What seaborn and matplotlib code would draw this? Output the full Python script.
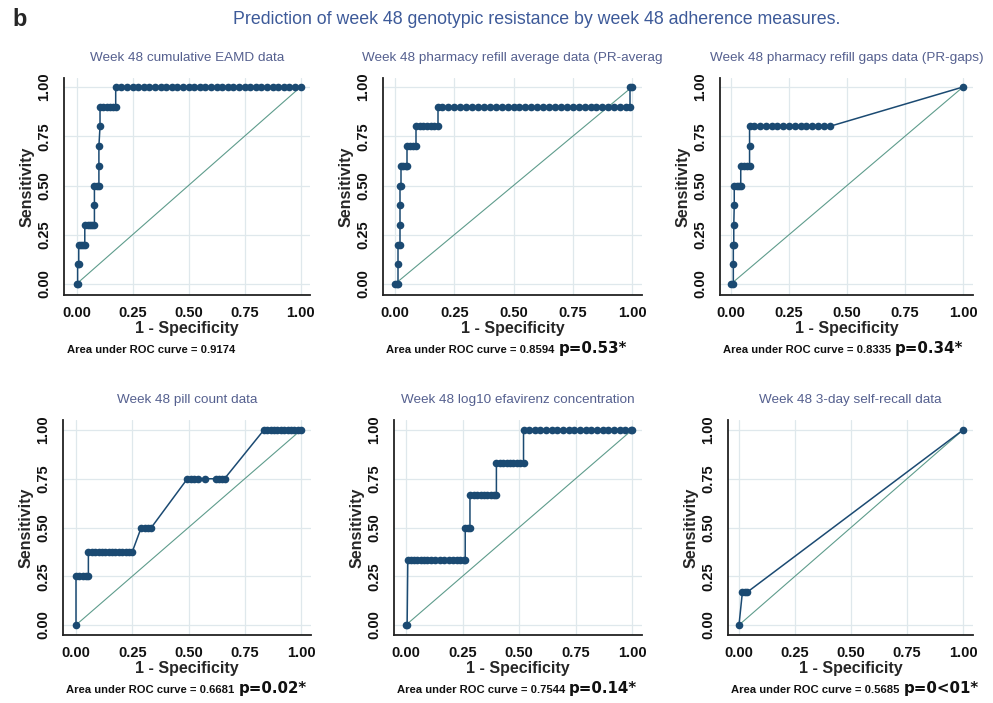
import matplotlib
matplotlib.use('Agg')
import matplotlib.pyplot as plt
import seaborn as sns
import pandas as pd

# ROC points (1 - specificity, sensitivity)
eamd_fpr = [0, 0.005, 0.005, 0.01, 0.01, 0.02, 0.03, 0.037,
            0.037, 0.05, 0.06, 0.07, 0.08, 0.08, 0.08, 0.09, 0.1,
            0.1, 0.1, 0.105, 0.105, 0.12, 0.135, 0.15, 0.165, 0.175,
            0.175, 0.2, 0.225, 0.25, 0.275, 0.3, 0.325, 0.35, 0.375, 0.4,
            0.425, 0.45, 0.475, 0.5, 0.525, 0.55, 0.575, 0.6, 0.625, 0.65,
            0.675, 0.7, 0.725, 0.75, 0.775, 0.8, 0.825, 0.85, 0.875, 0.9,
            0.925, 0.95, 0.975, 1.0]
eamd_tpr = [0, 0, 0.1, 0.1, 0.2, 0.2, 0.2, 0.2,
            0.3, 0.3, 0.3, 0.3, 0.3, 0.4, 0.5, 0.5, 0.5,
            0.6, 0.7, 0.8, 0.9, 0.9, 0.9, 0.9, 0.9, 0.9,
            1, 1, 1, 1, 1, 1, 1, 1, 1, 1,
            1, 1, 1, 1, 1, 1, 1, 1, 1, 1,
            1, 1, 1, 1, 1, 1, 1, 1, 1, 1,
            1, 1, 1, 1]

pravg_fpr = [0, 0.01, 0.014, 0.014, 0.014, 0.02, 0.02, 0.02, 0.02, 0.025,
             0.025, 0.035, 0.045, 0.052, 0.052, 0.065, 0.075, 0.09,
             0.09, 0.105, 0.12, 0.135, 0.15, 0.165, 0.18,
             0.18, 0.2, 0.225, 0.25, 0.275, 0.3, 0.325, 0.35, 0.375, 0.4,
             0.425, 0.45, 0.475, 0.5, 0.525, 0.55, 0.575, 0.6, 0.625, 0.65,
             0.675, 0.7, 0.725, 0.75, 0.775, 0.8, 0.825, 0.85, 0.875, 0.9,
             0.925, 0.95, 0.975, 0.99, 0.99, 1.0]
pravg_tpr = [0, 0, 0, 0.1, 0.2, 0.2, 0.3, 0.4, 0.5, 0.5,
             0.6, 0.6, 0.6, 0.6, 0.7, 0.7, 0.7, 0.7,
             0.8, 0.8, 0.8, 0.8, 0.8, 0.8, 0.8,
             0.9, 0.9, 0.9, 0.9, 0.9, 0.9, 0.9, 0.9, 0.9, 0.9,
             0.9, 0.9, 0.9, 0.9, 0.9, 0.9, 0.9, 0.9, 0.9, 0.9,
             0.9, 0.9, 0.9, 0.9, 0.9, 0.9, 0.9, 0.9, 0.9, 0.9,
             0.9, 0.9, 0.9, 0.9, 1, 1]

prgap_fpr = [0, 0.01, 0.01, 0.01, 0.012, 0.012, 0.014,
             0.014, 0.025, 0.035, 0.042, 0.042, 0.055, 0.068, 0.08, 0.08,
             0.08, 0.1, 0.125, 0.15, 0.175, 0.2, 0.225, 0.25, 0.275, 0.3,
             0.325, 0.35, 0.375, 0.4, 0.425, 1.0]
prgap_tpr = [0, 0, 0.1, 0.2, 0.2, 0.3, 0.4,
             0.5, 0.5, 0.5, 0.5, 0.6, 0.6, 0.6, 0.6, 0.7,
             0.8, 0.8, 0.8, 0.8, 0.8, 0.8, 0.8, 0.8, 0.8, 0.8,
             0.8, 0.8, 0.8, 0.8, 0.8, 1.0]

pill_fpr = [0, 0, 0.015, 0.03, 0.045, 0.055,
            0.055, 0.07, 0.085, 0.1, 0.115, 0.13, 0.145, 0.16, 0.175, 0.19,
            0.205, 0.22, 0.235, 0.25,
            0.29, 0.305, 0.32, 0.335,
            0.495, 0.51, 0.525, 0.54, 0.575, 0.62, 0.635, 0.65, 0.66,
            0.835, 0.85, 0.865, 0.88, 0.895, 0.91, 0.925, 0.94, 0.955, 0.97,
            0.985, 1.0]
pill_tpr = [0, 0.25, 0.25, 0.25, 0.25, 0.25,
            0.375, 0.375, 0.375, 0.375, 0.375, 0.375, 0.375, 0.375, 0.375, 0.375,
            0.375, 0.375, 0.375, 0.375,
            0.5, 0.5, 0.5, 0.5,
            0.75, 0.75, 0.75, 0.75, 0.75, 0.75, 0.75, 0.75, 0.75,
            1, 1, 1, 1, 1, 1, 1, 1, 1, 1,
            1, 1]

efv_fpr = [0, 0.005, 0.008, 0.02, 0.035, 0.05, 0.065, 0.08, 0.095, 0.11,
           0.13, 0.15, 0.17, 0.19, 0.21, 0.225, 0.24, 0.255, 0.262,
           0.262, 0.275, 0.283,
           0.283, 0.3, 0.315, 0.33, 0.345, 0.36, 0.375, 0.39, 0.4,
           0.4, 0.415, 0.43, 0.445, 0.46, 0.475, 0.49, 0.505, 0.52,
           0.52, 0.545, 0.57, 0.595, 0.62, 0.645, 0.67, 0.695, 0.72, 0.745,
           0.77, 0.795, 0.82, 0.845, 0.87, 0.895, 0.92, 0.945, 0.97, 0.995, 1.0]
efv_tpr = [0, 0, 0.333, 0.333, 0.333, 0.333, 0.333, 0.333, 0.333, 0.333,
           0.333, 0.333, 0.333, 0.333, 0.333, 0.333, 0.333, 0.333, 0.333,
           0.5, 0.5, 0.5,
           0.667, 0.667, 0.667, 0.667, 0.667, 0.667, 0.667, 0.667, 0.667,
           0.833, 0.833, 0.833, 0.833, 0.833, 0.833, 0.833, 0.833, 0.833,
           1, 1, 1, 1, 1, 1, 1, 1, 1, 1,
           1, 1, 1, 1, 1, 1, 1, 1, 1, 1, 1]

recall_fpr = [0, 0.015, 0.025, 0.035, 1.0]
recall_tpr = [0, 0.167, 0.167, 0.167, 1.0]

panel_titles = ['Week 48 cumulative EAMD data',
                'Week 48 pharmacy refill average data (PR-averag',
                'Week 48 pharmacy refill gaps data (PR-gaps)',
                'Week 48 pill count data',
                'Week 48 log10 efavirenz concentration',
                'Week 48 3-day self-recall data']
auc_labels = ['Area under ROC curve = 0.9174', 'Area under ROC curve = 0.8594',
              'Area under ROC curve = 0.8335', 'Area under ROC curve = 0.6681',
              'Area under ROC curve = 0.7544', 'Area under ROC curve = 0.5685']
p_labels = ['', 'p=0.53*', 'p=0.34*', 'p=0.02*', 'p=0.14*', 'p=0<01*']
tick_vals = [0, 0.25, 0.5, 0.75, 1.0]
tick_labels = ['0.00', '0.25', '0.50', '0.75', '1.00']
ref_line = [0, 1]

curves = [(eamd_fpr, eamd_tpr), (pravg_fpr, pravg_tpr), (prgap_fpr, prgap_tpr),
          (pill_fpr, pill_tpr), (efv_fpr, efv_tpr), (recall_fpr, recall_tpr)]

sns.set_style('white')
plt.rcParams['font.family'] = ['Liberation Sans', 'DejaVu Sans']

NAVY = '#1b4a72'
TEAL = '#5e9c8c'
GRID = '#dfe8ec'
INK = '#111111'

W, H = 993, 703
fig = plt.figure(figsize=(W / 100, H / 100), dpi=100)

# pixel layout: (left, right, x of 0, x of 1) per panel; (top, bottom, y of 1, y of 0) per row
cols = [(64, 310, 76.5, 300.5), (383, 642, 395, 632), (720, 973, 731, 963),
        (63, 311, 76, 301), (394, 642, 406, 632), (728, 973, 739, 963)]
rows = [(78, 295, 87, 284), (78, 295, 87, 284), (78, 295, 87, 284),
        (420, 635, 430, 625), (420, 635, 430, 625), (420, 635, 430, 625)]

for i, (fpr, tpr) in enumerate(curves):
    L, R, x0, x1 = cols[i]
    T, B, y1, y0 = rows[i]
    ax = fig.add_axes([L / W, 1 - B / H, (R - L) / W, (B - T) / H])
    ax.set_xlim((L - x0) / (x1 - x0), (R - x0) / (x1 - x0))
    ax.set_ylim((y0 - B) / (y0 - y1), (y0 - T) / (y0 - y1))

    sns.lineplot(x=ref_line, y=ref_line, ax=ax, color=TEAL, lw=0.8)
    df = pd.DataFrame({'fpr': fpr, 'tpr': tpr})
    sns.lineplot(data=df, x='fpr', y='tpr', ax=ax, sort=False, estimator=None,
                 color=NAVY, lw=1.1, marker='o', markersize=5.5, markeredgewidth=0)

    ax.set_xticks(tick_vals)
    ax.set_yticks(tick_vals)
    ax.set_xticklabels(tick_labels, fontsize=10.5, fontweight='bold', color=INK)
    ax.set_yticklabels(tick_labels, fontsize=10.5, fontweight='bold', color=INK,
                       rotation=90, va='center')
    ax.tick_params(axis='both', direction='out', length=4, width=1, color='#222222')
    ax.tick_params(axis='x', pad=4)
    ax.tick_params(axis='y', pad=5)
    ax.grid(True, color=GRID, lw=0.9)
    ax.set_axisbelow(True)
    for s in ['top', 'right']:
        ax.spines[s].set_visible(False)
    for s in ['left', 'bottom']:
        ax.spines[s].set_color('#222222')
        ax.spines[s].set_linewidth(1.3)

    ax.set_xlabel('1 - Specificity', fontsize=11.5, fontweight='bold', va='center')
    ax.xaxis.set_label_coords(0.5, -33 / (B - T))
    ax.set_ylabel('Sensitivity', fontsize=11.5, fontweight='bold', va='center')
    ax.yaxis.set_label_coords(-37 / (R - L), 0.5)

    fig.text((L + R) / 2 / W, 1 - (T - 20) / H, panel_titles[i], fontsize=9.7,
             color='#55608f', ha='center', va='center')
    cap = fig.text((L + 3) / W, 1 - (B + 55) / H, auc_labels[i], fontsize=8.1,
                   fontweight='bold', ha='left', va='center', color=INK)
    if p_labels[i]:
        fig.canvas.draw()
        bb = cap.get_window_extent()
        fig.text((bb.x1 + 4) / W, 1 - (B + 54) / H, p_labels[i], fontsize=10.8,
                 fontweight='bold', ha='left', va='center', color=INK,
                 family='DejaVu Sans')

fig.text(12 / W, 1 - 20 / H, 'b', fontsize=17, fontweight='bold', ha='left',
         va='center')
fig.text(537 / W, 1 - 20 / H,
         'Prediction of week 48 genotypic resistance by week 48 adherence measures.',
         fontsize=12.8, color='#3d5a99', ha='center', va='center')

fig.savefig('out.png', dpi=100)
